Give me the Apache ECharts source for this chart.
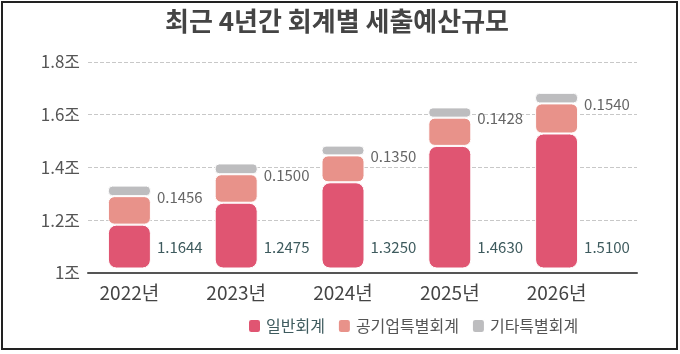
<!DOCTYPE html>
<html>
<head>
<meta charset="utf-8">
<script src="https://cdn.jsdelivr.net/npm/echarts@6/dist/echarts.min.js"></script>
<style>
  html, body { margin: 0; padding: 0; background: #fff; }
  #chart { width: 680px; height: 354px; }
</style>
</head>
<body>
<div id="chart"></div>
<script>
// 최근 4년간 회계별 세출예산규모 (단위: 조)
const years = ['2022', '2023', '2024', '2025', '2026']
const general = [1.1644, 1.2475, 1.3250, 1.4630, 1.5100]   // 일반회계
const publicSpecial = [0.108, 0.108, 0.102, 0.107, 0.114]  // 공기업특별회계 (그림에서 추정)
const otherSpecial = [0.040, 0.041, 0.037, 0.039, 0.040]   // 기타특별회계 (그림에서 추정)
const specialTotal = ['0.1456', '0.1500', '0.1350', '0.1428', '0.1540']
const yTicks = [1, 1.2, 1.4, 1.6, 1.8]

const font = '"Noto Sans CJK KR", "Noto Sans", sans-serif'

const chart = echarts.init(document.getElementById('chart'))

chart.setOption({
  animation: false,
  textStyle: { fontFamily: font },
  title: {
    text: '최근 4년간 회계별 세출예산규모',
    left: 160,
    top: 3,
    textStyle: { fontSize: 26, fontWeight: 'bold', color: '#444', fontFamily: font }
  },
  legend: {
    left: 242,
    top: 313,
    itemWidth: 13,
    itemHeight: 14,
    itemGap: 12,
    icon: 'roundRect',
    textStyle: { fontSize: 16, color: '#555', fontFamily: font },
    data: [
      { name: '일반회계', textStyle: { color: '#3e5b5e' } },
      { name: '공기업특별회계' },
      { name: '기타특별회계' }
    ]
  },
  graphic: [{
    type: 'rect',
    shape: { x: 2, y: 2, width: 675, height: 347 },
    style: { fill: 'none', stroke: '#222', lineWidth: 2 },
    silent: true
  }],
  grid: [
    // 눈금선과 축선용
    { left: 88, right: 43, top: 62, bottom: 81 },
    // 막대용 (축선보다 조금 위에서 시작하고 왼쪽으로 몰려 있음)
    { left: 76, right: 70, top: 57, bottom: 86 }
  ],
  xAxis: [{
    gridIndex: 0,
    type: 'category',
    data: years,
    axisLine: { lineStyle: { color: '#555', width: 2 } },
    axisTick: { show: false },
    axisLabel: { show: false }
  }, {
    gridIndex: 1,
    type: 'category',
    data: years,
    axisLine: { show: false },
    axisTick: { show: false },
    axisLabel: {
      margin: 15,
      fontSize: 19,
      color: '#444',
      formatter: v => v + '년'
    }
  }],
  yAxis: [{
    gridIndex: 0,
    type: 'value',
    min: yTicks[0],
    max: yTicks[yTicks.length - 1],
    interval: 0.2,
    axisLine: { show: false },
    axisTick: { show: false },
    axisLabel: {
      margin: 8,
      fontSize: 17,
      color: '#555',
      formatter: v => Number(v.toFixed(1)) + '조'
    },
    splitLine: { lineStyle: { color: '#c8c8c8', type: 'dashed' } }
  }, {
    gridIndex: 1,
    type: 'value',
    min: yTicks[0],
    max: yTicks[yTicks.length - 1],
    show: false
  }],
  series: [{
    name: '일반회계',
    type: 'bar',
    stack: 'total',
    xAxisIndex: 1,
    yAxisIndex: 1,
    barWidth: 43,
    data: general,
    itemStyle: { color: '#e05572', borderColor: '#fff', borderWidth: 1, borderRadius: 8 },
    label: {
      show: true,
      position: ['100%', '100%'],
      offset: [6, -21],
      align: 'left',
      verticalAlign: 'middle',
      fontSize: 15,
      color: '#3e5b5e',
      formatter: p => p.value.toFixed(4)
    }
  }, {
    name: '공기업특별회계',
    type: 'bar',
    stack: 'total',
    xAxisIndex: 1,
    yAxisIndex: 1,
    data: publicSpecial,
    itemStyle: { color: '#e8928a', borderColor: '#fff', borderWidth: 1, borderRadius: 6 }
  }, {
    name: '기타특별회계',
    type: 'bar',
    stack: 'total',
    xAxisIndex: 1,
    yAxisIndex: 1,
    data: otherSpecial,
    itemStyle: { color: '#bdbdbf', borderColor: '#fff', borderWidth: 1, borderRadius: 4 },
    label: {
      show: true,
      position: ['100%', '100%'],
      offset: [6, 1],
      align: 'left',
      verticalAlign: 'middle',
      fontSize: 15,
      color: '#666',
      formatter: p => specialTotal[p.dataIndex]
    }
  }]
})
</script>
</body>
</html>
